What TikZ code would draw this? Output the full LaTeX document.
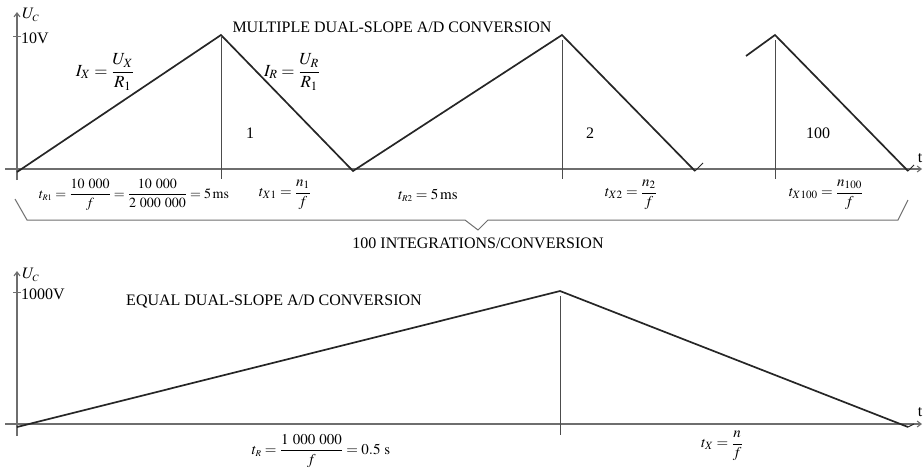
\documentclass[tikz,border=0pt]{standalone}
\usepackage{amsmath}
\usepackage{mathptmx}
\usepackage{fontspec}
\setmainfont{Liberation Serif}
\usetikzlibrary{arrows.meta}
\definecolor{axisgray}{RGB}{110,110,110}
\newcommand{\thsp}{\mskip 5mu}
\begin{document}
\begin{tikzpicture}[x=1pt,y=-1pt,
  axis/.style={draw=axisgray,line width=1.1pt,-{Straight Barb[length=4pt,width=6pt]}},
  wave/.style={draw=black!85,line width=1.7pt,line join=miter},
  marker/.style={draw=black!70,line width=0.9pt},
  brace/.style={draw=axisgray,line width=1pt},
  lbl/.style={inner sep=0pt,font=\fontsize{16}{18}\selectfont},
  eqbig/.style={inner sep=0pt,font=\fontsize{17}{19}\selectfont},
  eq/.style={inner sep=0pt,font=\fontsize{15}{17}\selectfont}]
\useasboundingbox (0,0) rectangle (924,472);
% ---------- top graph ----------
\coordinate (ya0) at (17,180); \coordinate (ya1) at (17,12);
\coordinate (xa0) at (5,169); \coordinate (xa1) at (922,169);
\draw[axis] (ya0) -- (ya1);
\draw[axis] (xa0) -- (xa1);
\coordinate (tk0) at (13,36); \coordinate (tk1) at (21,36);
\draw[draw=axisgray,line width=0.8pt] (tk0) -- (tk1);
\node[lbl,anchor=west] (uc1) at (22,15) {$U_{\scriptscriptstyle C}$};
\node[lbl,anchor=west] (v10) at (21,38) {10V};
\node[lbl] (t1) at (920,158) {t};
% waveform
\coordinate (a0) at (17,172); \coordinate (p1) at (221,35); \coordinate (b1) at (353,171);
\coordinate (p2) at (562,35); \coordinate (b2) at (695,171); \coordinate (e2) at (703,163);
\coordinate (s3) at (746,56); \coordinate (p3) at (775,35); \coordinate (b3) at (908,171); \coordinate (e3) at (914,165);
\draw[wave] (a0) -- (p1) -- (b1) -- (p2) -- (b2);
\draw[draw=black!85,line width=1pt] (b2) -- (e2);
\draw[wave] (s3) -- (p3) -- (b3);
\draw[draw=black!85,line width=1pt] (b3) -- (e3);
% markers
\coordinate (m1a) at (221,37); \coordinate (m1b) at (221,179);
\coordinate (m2a) at (562,40); \coordinate (m2b) at (562,179);
\coordinate (m3a) at (775,40); \coordinate (m3b) at (775,179);
\draw[marker] (m1a) -- (m1b);
\draw[marker] (m2a) -- (m2b);
\draw[marker] (m3a) -- (m3b);
\node[lbl] (n1) at (250,133) {1};
\node[lbl] (n2) at (590,133) {2};
\node[lbl] (n100) at (818,133) {100};
\node[lbl] (title1) at (392,27) {MULTIPLE DUAL-SLOPE A/D CONVERSION};
\node[eqbig] (ix) at (105,72) {$I_X=\dfrac{U_X}{R_1}$};
\node[eqbig] (ir) at (292,72) {$I_R=\dfrac{U_R}{R_1}$};
% lower labels
\node[eq,font=\fontsize{14}{16}\selectfont] (tr1) at (134,195) {$t_{\scriptscriptstyle R1}=\dfrac{10\thsp000}{f}=\dfrac{10\thsp000}{2\thsp000\thsp000}=5\,\mathrm{ms}$};
\node[eq] (tx1) at (285,195) {$t_{X1}=\dfrac{n_1}{f}$};
\node[eq] (tr2) at (428,195) {$t_{\scriptscriptstyle R2}=5\,\mathrm{ms}$};
\node[eq] (tx2) at (631,195) {$t_{X2}=\dfrac{n_2}{f}$};
\node[eq] (tx100) at (826,195) {$t_{X100}=\dfrac{n_{100}}{f}$};
% brace
\coordinate (br0) at (15,199); \coordinate (br1) at (27,220); \coordinate (br2) at (465,220);
\coordinate (br3) at (478,230); \coordinate (br4) at (488,220); \coordinate (br5) at (898,220);
\coordinate (br6) at (908,200);
\draw[brace] (br0) -- (br1) -- (br2) -- (br3) -- (br4) -- (br5) -- (br6);
\node[lbl] (integ) at (478,243) {100 INTEGRATIONS/CONVERSION};
% ---------- bottom graph ----------
\coordinate (yb0) at (17,436); \coordinate (yb1) at (17,271);
\coordinate (xb0) at (5,424); \coordinate (xb1) at (922,424);
\draw[axis] (yb0) -- (yb1);
\draw[axis] (xb0) -- (xb1);
\coordinate (tb0) at (13,292); \coordinate (tb1) at (21,292);
\draw[draw=axisgray,line width=0.8pt] (tb0) -- (tb1);
\node[lbl,anchor=west] (uc2) at (22,275) {$U_{\scriptscriptstyle C}$};
\node[lbl,anchor=west] (v1000) at (21,294) {1000V};
\node[lbl] (t2) at (920,412) {t};
\coordinate (c0) at (17,427); \coordinate (q1) at (560,291); \coordinate (d1) at (908,427); \coordinate (e4) at (914,424);
\draw[wave] (c0) -- (q1) -- (d1);
\draw[draw=black!85,line width=1pt] (d1) -- (e4);
\coordinate (m4a) at (560,296); \coordinate (m4b) at (560,435);
\draw[marker] (m4a) -- (m4b);
\node[lbl] (title2) at (274,301) {EQUAL DUAL-SLOPE A/D CONVERSION};
\node[eq] (tr) at (321,451) {$t_{\scriptscriptstyle R}=\dfrac{1\thsp000\thsp000}{f}=0.5\ \mathrm{s}$};
\node[eq] (tx) at (722,446) {$t_X=\dfrac{n}{f}$};
\end{tikzpicture}
\end{document}
